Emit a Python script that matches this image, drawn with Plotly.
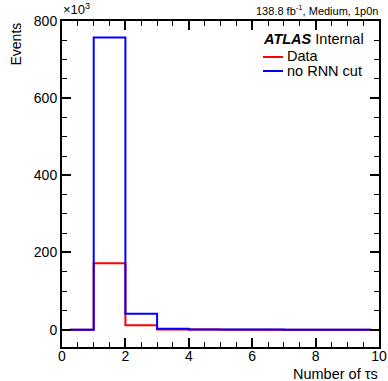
import plotly.graph_objects as go

# Data (bin edges 0..10, one value per bin), in units of 10^3 events
bin_edges = [0, 1, 2, 3, 4, 5, 6, 7, 8, 9, 10]
draw_start = 0.25
draw_end = 9.75
data_vals = [0, 172, 11.5, 0.6, 0.1, 0, 0, 0, 0, 0]
nornn_vals = [0, 757, 41, 2.5, 0.5, 0.2, 0.1, 0, 0, 0]
x_ticks = [0, 2, 4, 6, 8, 10]
y_ticks = [0, 200, 400, 600, 800]

FONT = "Liberation Sans, Arial, Helvetica, sans-serif"

def step_xy(vals):
    xs = [draw_start] + bin_edges[1:-1] + [draw_end]
    ys = list(vals) + [vals[-1]]
    return xs, ys

fig = go.Figure()
xr, yr = step_xy(data_vals)
fig.add_trace(go.Scatter(x=xr, y=yr, mode="lines", line=dict(color="#ff0000", width=2, shape="hv"),
                         name="Data", showlegend=False))
xb, yb = step_xy(nornn_vals)
fig.add_trace(go.Scatter(x=xb, y=yb, mode="lines", line=dict(color="#0000ff", width=2, shape="hv"),
                         name="no RNN cut", showlegend=False))

axis_common = dict(showgrid=False, zeroline=False, showline=True, linecolor="black", linewidth=2,
                   mirror="allticks", ticks="inside", tickcolor="black", tickwidth=1.5,
                   automargin=False,
                   tickfont=dict(family=FONT, size=14, color="black"))
fig.update_xaxes(range=[0, 10], tickvals=x_ticks, ticklen=9, ticklabelstandoff=-5,
                 minor=dict(dtick=0.5, ticklen=5, ticks="inside", tickcolor="black", tickwidth=1),
                 **axis_common)
fig.update_yaxes(range=[-45, 800], tickvals=y_ticks, ticklen=9,
                 minor=dict(dtick=50, ticklen=5, ticks="inside", tickcolor="black", tickwidth=1),
                 **axis_common)

W, H = 388, 381
ml, mr, mt, mb = 62, 9, 21, 34
pw = W - ml - mr
ph = H - mt - mb

def px_x(p):
    return (p - ml) / pw

def px_y(p):
    return 1 - (p - mt) / ph

ann = []
ann.append(dict(text="Events", x=px_x(5), y=1, xref="paper", yref="paper", textangle=-90,
                xanchor="left", yanchor="top", showarrow=False,
                font=dict(family=FONT, size=14, color="black")))
ann.append(dict(text="Number of τs", x=px_x(380), y=px_y(384), xref="paper", yref="paper",
                xanchor="right", yanchor="bottom", showarrow=False,
                font=dict(family=FONT, size=14.5, color="black")))
ann.append(dict(text="×10<sup>3</sup>", x=px_x(61), y=px_y(19), xref="paper", yref="paper",
                xanchor="left", yanchor="bottom", showarrow=False,
                font=dict(family=FONT, size=13, color="black")))
ann.append(dict(text="138.8 fb<sup>-1</sup>, Medium, 1p0n", x=px_x(380), y=px_y(19), xref="paper", yref="paper",
                xanchor="right", yanchor="bottom", showarrow=False,
                font=dict(family=FONT, size=11, color="black")))
ann.append(dict(text="<b><i>ATLAS</i></b> Internal", x=px_x(261), y=px_y(39), xref="paper", yref="paper",
                xanchor="left", yanchor="middle", showarrow=False,
                font=dict(family=FONT, size=14.5, color="black")))
ann.append(dict(text="Data", x=px_x(285), y=px_y(56), xref="paper", yref="paper",
                xanchor="left", yanchor="middle", showarrow=False,
                font=dict(family=FONT, size=14.5, color="black")))
ann.append(dict(text="no RNN cut", x=px_x(285), y=px_y(71), xref="paper", yref="paper",
                xanchor="left", yanchor="middle", showarrow=False,
                font=dict(family=FONT, size=14.5, color="black")))
fig.update_layout(annotations=ann)

fig.add_shape(type="line", xref="paper", yref="paper", x0=px_x(263), x1=px_x(283),
              y0=px_y(57), y1=px_y(57), line=dict(color="#ff0000", width=2))
fig.add_shape(type="line", xref="paper", yref="paper", x0=px_x(263), x1=px_x(283),
              y0=px_y(71), y1=px_y(71), line=dict(color="#0000ff", width=2))

fig.update_layout(width=W, height=H, margin=dict(l=ml, r=mr, t=mt, b=mb, pad=0, autoexpand=False),
                  plot_bgcolor="white", paper_bgcolor="white", showlegend=False,
                  font=dict(family=FONT, color="black"))

fig.write_html("out.html")
